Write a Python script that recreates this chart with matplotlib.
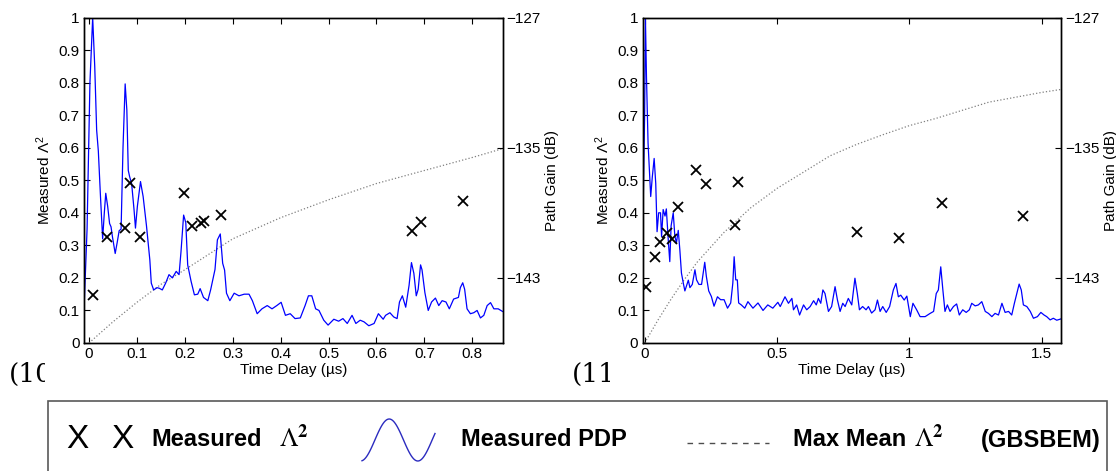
import numpy as np
import matplotlib
matplotlib.use("Agg")
import matplotlib.pyplot as plt
from matplotlib.patches import Rectangle
from matplotlib.transforms import Bbox, TransformedBbox

plt.rcParams['font.family'] = ['Liberation Sans', 'DejaVu Sans']
plt.rcParams['mathtext.fontset'] = 'custom'
plt.rcParams['mathtext.rm'] = 'Liberation Sans'
plt.rcParams['mathtext.it'] = 'Liberation Sans:italic'
plt.rcParams['mathtext.bf'] = 'Liberation Sans:bold'

# ---- panel (10): measured PDP, time delay in us
pdp10_t = [-0.0104, -0.004, 0.002, 0.0077, 0.012, 0.016, 0.0195, 0.024, 0.0285, 0.032, 0.035,
           0.039, 0.043, 0.046, 0.049, 0.0547, 0.059, 0.063, 0.067, 0.071, 0.0755, 0.079,
           0.082, 0.085, 0.089, 0.094, 0.097, 0.101, 0.1075, 0.113, 0.120, 0.127, 0.130,
           0.135, 0.142, 0.147, 0.153, 0.160, 0.167, 0.174, 0.182, 0.188, 0.192, 0.1975,
           0.202, 0.206, 0.213, 0.220, 0.227, 0.232, 0.239, 0.248, 0.254, 0.263, 0.268,
           0.274, 0.279, 0.283, 0.287, 0.294, 0.303, 0.313, 0.324, 0.334, 0.341, 0.351,
           0.361, 0.372, 0.382, 0.392, 0.401, 0.410, 0.420, 0.430, 0.441, 0.451, 0.458,
           0.465, 0.473, 0.480, 0.490, 0.499, 0.511, 0.521, 0.530, 0.539, 0.549, 0.557,
           0.566, 0.574, 0.584, 0.595, 0.604, 0.614, 0.619, 0.628, 0.636, 0.643, 0.648,
           0.654, 0.661, 0.668, 0.673, 0.678, 0.683, 0.687, 0.692, 0.695, 0.701, 0.708,
           0.715, 0.723, 0.730, 0.737, 0.745, 0.752, 0.761, 0.771, 0.775, 0.780, 0.784,
           0.789, 0.796, 0.803, 0.810, 0.817, 0.824, 0.831, 0.838, 0.845, 0.854, 0.863]
pdp10_v = [0.10, 0.35, 0.80, 1.00, 0.85, 0.654, 0.59, 0.45, 0.32, 0.40, 0.46,
           0.42, 0.367, 0.357, 0.326, 0.275, 0.31, 0.345, 0.35, 0.60, 0.796, 0.716,
           0.53, 0.51, 0.49, 0.41, 0.353, 0.42, 0.496, 0.45, 0.36, 0.255, 0.184,
           0.163, 0.17, 0.168, 0.163, 0.184, 0.21, 0.20, 0.22, 0.21, 0.28, 0.393,
           0.37, 0.24, 0.19, 0.148, 0.15, 0.167, 0.14, 0.13, 0.164, 0.226, 0.317,
           0.335, 0.245, 0.224, 0.153, 0.13, 0.153, 0.145, 0.15, 0.15, 0.13, 0.09,
           0.105, 0.115, 0.105, 0.115, 0.125, 0.085, 0.09, 0.075, 0.077, 0.115, 0.145,
           0.145, 0.105, 0.10, 0.07, 0.055, 0.073, 0.067, 0.075, 0.06, 0.085, 0.06,
           0.07, 0.065, 0.053, 0.06, 0.09, 0.073, 0.085, 0.093, 0.08, 0.075, 0.126,
           0.145, 0.11, 0.177, 0.247, 0.214, 0.145, 0.165, 0.24, 0.225, 0.155, 0.10,
           0.126, 0.138, 0.115, 0.13, 0.126, 0.105, 0.135, 0.14, 0.17, 0.185, 0.165,
           0.105, 0.09, 0.093, 0.10, 0.077, 0.085, 0.115, 0.124, 0.105, 0.105, 0.097]
meas10_t = [0.009, 0.038, 0.075, 0.0866, 0.107, 0.198, 0.214, 0.234, 0.241, 0.276, 0.674, 0.693, 0.78]
meas10_v = [0.147, 0.327, 0.352, 0.493, 0.325, 0.462, 0.36, 0.368, 0.376, 0.393, 0.345, 0.373, 0.436]
model10_t = [0, 0.05, 0.1, 0.15, 0.2, 0.3, 0.4, 0.5, 0.6, 0.7, 0.8, 0.863]
model10_v = [0, 0.065, 0.125, 0.18, 0.225, 0.32, 0.385, 0.44, 0.49, 0.53, 0.57, 0.597]

# ---- panel (11)
pdp11_t = [-0.009, 0.0, 0.003, 0.007, 0.013, 0.023, 0.029, 0.036, 0.042, 0.047, 0.053,
           0.060, 0.064, 0.070, 0.077, 0.082, 0.090, 0.095, 0.100, 0.108, 0.114, 0.120,
           0.127, 0.133, 0.139, 0.146, 0.152, 0.158, 0.165, 0.171, 0.180, 0.190, 0.196,
           0.205, 0.215, 0.227, 0.233, 0.242, 0.252, 0.262, 0.275, 0.287, 0.300, 0.313,
           0.325, 0.333, 0.338, 0.344, 0.350, 0.355, 0.365, 0.378, 0.390, 0.409, 0.428,
           0.447, 0.465, 0.484, 0.503,
           0.512, 0.530, 0.543, 0.556, 0.562, 0.574, 0.585, 0.600, 0.612, 0.625, 0.638,
           0.648, 0.656, 0.665, 0.673, 0.681, 0.694, 0.706, 0.719, 0.728, 0.738, 0.748,
           0.757, 0.769, 0.782, 0.794, 0.803, 0.811, 0.823, 0.836, 0.845, 0.857, 0.870,
           0.879, 0.889, 0.899, 0.912, 0.925, 0.939, 0.949, 0.958, 0.967, 0.980, 0.990,
           1.003, 1.013, 1.027, 1.040,
           1.059, 1.078, 1.091, 1.101, 1.109, 1.118, 1.126, 1.134, 1.143, 1.153, 1.166,
           1.178, 1.188, 1.201, 1.214, 1.226, 1.235, 1.248, 1.260, 1.273, 1.286, 1.298,
           1.311, 1.323, 1.336, 1.349, 1.361, 1.374, 1.386, 1.396, 1.405, 1.414, 1.422,
           1.430, 1.443, 1.456, 1.468, 1.483, 1.496, 1.508, 1.518, 1.531, 1.543, 1.556,
           1.572]
pdp11_v = [0.234, 0.70, 1.00, 0.818, 0.614, 0.45, 0.51, 0.567, 0.49, 0.342, 0.40,
           0.40, 0.327, 0.41, 0.39, 0.412, 0.307, 0.25, 0.36, 0.40, 0.33, 0.307,
           0.346, 0.286, 0.215, 0.184, 0.16, 0.175, 0.193, 0.17, 0.18, 0.225, 0.194,
           0.18, 0.18, 0.248, 0.205, 0.16, 0.143, 0.113, 0.142, 0.133, 0.133, 0.107,
           0.123, 0.184, 0.265, 0.194, 0.194, 0.123, 0.117, 0.107, 0.127, 0.107, 0.123,
           0.10, 0.117, 0.107, 0.125,
           0.112, 0.142, 0.122, 0.137, 0.102, 0.117, 0.086, 0.117, 0.102, 0.112, 0.130,
           0.117, 0.137, 0.122, 0.163, 0.152, 0.097, 0.112, 0.173, 0.132, 0.097, 0.122,
           0.112, 0.137, 0.117, 0.199, 0.152, 0.102, 0.112, 0.102, 0.112, 0.092, 0.102,
           0.132, 0.097, 0.112, 0.094, 0.112, 0.163, 0.183, 0.142, 0.147, 0.132, 0.144,
           0.081, 0.122, 0.102, 0.081,
           0.081, 0.091, 0.097, 0.152, 0.163, 0.234, 0.163, 0.097, 0.117, 0.097, 0.112,
           0.120, 0.086, 0.102, 0.094, 0.102, 0.122, 0.114, 0.117, 0.127, 0.097, 0.091,
           0.081, 0.091, 0.086, 0.122, 0.094, 0.097, 0.086, 0.122, 0.152, 0.181, 0.163,
           0.117, 0.112, 0.097, 0.076, 0.081, 0.094, 0.086, 0.081, 0.071, 0.076, 0.070,
           0.074]
meas11_t = [0.007, 0.038, 0.057, 0.085, 0.105, 0.126, 0.193, 0.23, 0.34, 0.353, 0.802, 0.959, 1.124, 1.43]
meas11_v = [0.173, 0.265, 0.311, 0.339, 0.32, 0.417, 0.531, 0.49, 0.363, 0.494, 0.342, 0.322, 0.429, 0.391]
model11_t = [0, 0.05, 0.1, 0.15, 0.2, 0.3, 0.4, 0.5, 0.6, 0.7, 0.8, 0.9, 1.0, 1.1, 1.2, 1.3, 1.4, 1.5, 1.572]
model11_v = [0, 0.07, 0.135, 0.195, 0.25, 0.34, 0.415, 0.475, 0.525, 0.575, 0.61, 0.64, 0.668,
             0.69, 0.715, 0.74, 0.755, 0.77, 0.779]

gain_ticks = [-127, -135, -143]

W, H = 1116, 471
fig = plt.figure(figsize=(W / 100, H / 100), dpi=100)


def panel(left_px, t, v, mt, mv, gt, gv, xlim, xticks, xlabels):
    ax = fig.add_axes([left_px / W, (H - 343) / H, 418.5 / W, 325.5 / H])
    ax.plot(gt, gv, ':', color='0.5', lw=0.9)
    ax.plot(t, v, '-', color='#0000ff', lw=0.9)
    ax.plot(mt, mv, 'x', color='k', ms=6.5, mew=1.3, ls='none')
    ax.set_xlim(xlim)
    ax.set_ylim(0, 1)
    ax.set_xticks(xticks)
    ax.set_xticklabels(xlabels)
    ax.set_yticks(np.arange(0, 1.01, 0.1))
    ax.set_yticklabels(['0', '0.1', '0.2', '0.3', '0.4', '0.5', '0.6', '0.7', '0.8', '0.9', '1'])
    ax.tick_params(direction='in', top=True, right=True, labelsize=11, length=4, width=0.8,
                   pad=3)
    ax.set_xlabel('Time Delay (µs)', fontsize=11, labelpad=1)
    ax.set_ylabel(r'Measured $\Lambda^2$', fontsize=11, labelpad=4)
    ax2 = ax.twinx()
    ax2.set_ylim(-147, -127)
    ax2.set_yticks(gain_ticks)
    ax2.set_yticklabels(['\u2212127', '\u2212135', '\u2212143'])
    ax2.tick_params(direction='in', labelsize=11, length=4, width=0.8, pad=3)
    ax2.set_ylabel('Path Gain (dB)', fontsize=11, labelpad=3)
    for a in (ax, ax2):
        for s in a.spines.values():
            s.set_linewidth(1.0)
    return ax


panel(84, pdp10_t, pdp10_v, meas10_t, meas10_v, model10_t, model10_v,
      (-0.0104, 0.863), np.arange(0, 0.81, 0.1),
      ['0', '0.1', '0.2', '0.3', '0.4', '0.5', '0.6', '0.7', '0.8'])
panel(642.5, pdp11_t, pdp11_v, meas11_t, meas11_v, model11_t, model11_v,
      (-0.008, 1.572), [0, 0.5, 1, 1.5], ['0', '0.5', '1', '1.5'])

# cropped sub-figure tags
for x0, lab, cut in [(9, '(10)', 45), (572, '(11)', 610)]:
    t = fig.text(x0 / W, 1 - 382 / H, lab, family='DejaVu Serif', fontsize=19, va='baseline')
    t.set_clip_box(TransformedBbox(Bbox.from_extents(0, 0, cut / W, 1), fig.transFigure))
    t.set_clip_on(True)

# legend box drawn by hand
fig.add_artist(Rectangle((48 / W, -0.05), (1107 - 48) / W, 0.05 + 1 - 401 / H,
                         transform=fig.transFigure, fill=False, edgecolor='0.35', lw=1.2))
ly = 1 - 440 / H
fs = 17
fig.text(77 / W, ly, 'X', fontsize=24, ha='center', va='center', color='k')
fig.text(122 / W, ly, 'X', fontsize=24, ha='center', va='center', color='k')
fig.text(151 / W, ly, 'Measured', fontsize=fs, fontweight='bold', va='center')
fig.text(279 / W, ly + 0.004, r'$\Lambda^{\mathbf{2}}$', fontsize=19, va='center',
         math_fontfamily='stix')
wave = np.linspace(0, 1, 100)
fig.add_artist(plt.Line2D((362 + 73 * wave) / W,
                          1 - (440 - 21 * np.sin(np.pi * (-0.45 + 2.55 * wave))) / H,
                          transform=fig.transFigure, color='#2b2bbf', lw=1.0))
fig.text(461 / W, ly, 'Measured PDP', fontsize=fs, fontweight='bold', va='center')
fig.add_artist(plt.Line2D([687 / W, 769 / W], [1 - 443 / H, 1 - 443 / H],
                          transform=fig.transFigure, color='0.3', lw=1.0, ls=(0, (4, 4))))
fig.text(793 / W, ly, 'Max Mean', fontsize=fs, fontweight='bold', va='center')
fig.text(914 / W, ly + 0.004, r'$\Lambda^{\mathbf{2}}$', fontsize=19, va='center',
         math_fontfamily='stix')
fig.text(1101 / W, ly, '(GBSBEM)', fontsize=fs, fontweight='bold', va='center', ha='right')

fig.savefig('out.png', dpi=100)
